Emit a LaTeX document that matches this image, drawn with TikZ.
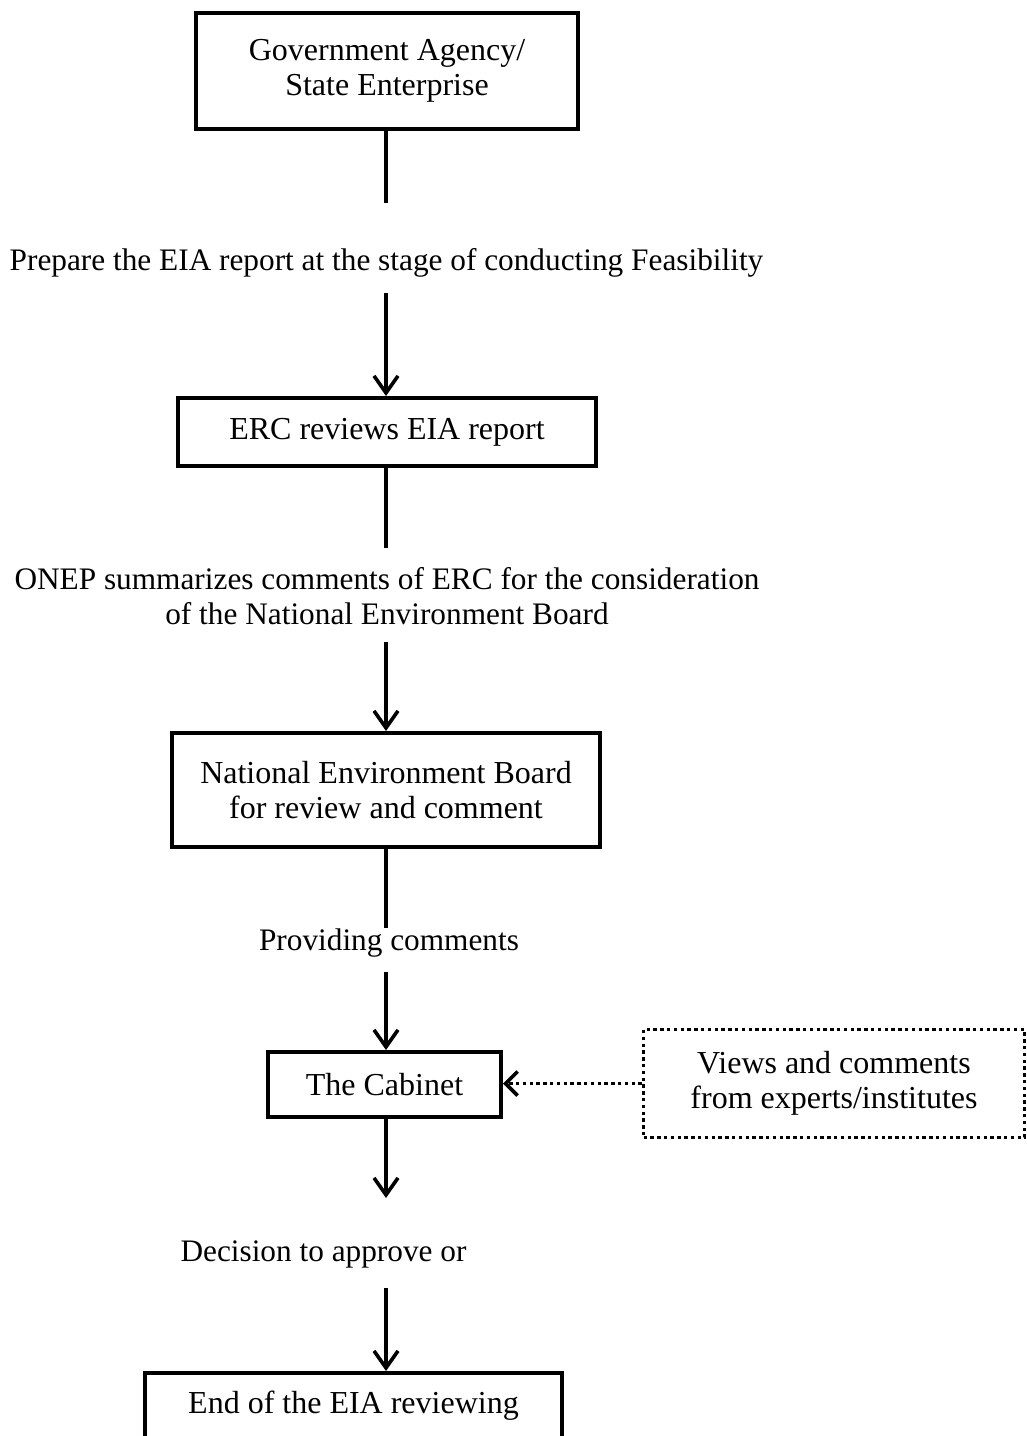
\documentclass[tikz,border=0pt]{standalone}
\usepackage{fontspec}
\setmainfont{Liberation Serif}
\usetikzlibrary{arrows.meta}
\newcommand\figfont{\fontsize{32}{35}\selectfont}
\newcommand\labfont{\fontsize{31.3}{34.5}\selectfont}
\begin{document}
\begin{tikzpicture}[x=1pt,y=-1pt,
  box/.style={draw,line width=4pt,inner sep=0pt,align=center,font=\figfont},
  lab/.style={inner sep=0pt,align=center,font=\labfont},
  conn/.style={line width=3.6pt},
  arr/.style={line width=3.6pt,-{Straight Barb[length=17pt,width=24pt]}},
  dotline/.style={line width=3.6pt,dash pattern=on 3.4pt off 3.4pt}]
\useasboundingbox (0,0) rectangle (1027,1436);
\clip (0,0) rectangle (1027,1436);

\node[box,minimum width=382pt,minimum height=116pt] (gov) at (387,71) {Government Agency/\\State Enterprise};
\node[lab] (l1) at (386.5,263) {Prepare the EIA report at the stage of conducting Feasibility};
\node[box,minimum width=418pt,minimum height=68pt] (erc) at (387,432) {ERC reviews EIA report};
\node[lab] (l2) at (387,596) {ONEP summarizes comments of ERC for the consideration\\of the National Environment Board};
\node[box,minimum width=428pt,minimum height=114pt] (neb) at (386,790) {National Environment Board\\for review and comment};
\node[lab] (l3) at (389,943) {Providing comments};
\node[box,minimum width=233pt,minimum height=65pt] (cab) at (384.5,1084.5) {The Cabinet};
\node[box,line width=3.6pt,dash pattern=on 3.4pt off 3.4pt,minimum width=381pt,minimum height=108pt] (ext) at (834,1083.5) {Views and comments\\from experts/institutes};
\node[lab] (l4) at (323.5,1254) {Decision to approve or};
\node[box,minimum width=417pt,minimum height=66pt] (end) at (353.5,1406) {End of the EIA reviewing};

\coordinate (a1) at (386,203);
\coordinate (b1) at (386,293);
\coordinate (a2) at (386,548);
\coordinate (b2) at (386,642);
\coordinate (a3) at (386,928);
\coordinate (b3) at (386,972);
\coordinate (a4) at (386,1198);
\coordinate (b4) at (386,1288);

\draw[conn] (gov.south -| a1) -- (a1);
\draw[arr] (b1) -- (b1 |- erc.north);
\draw[conn] (erc.south -| a2) -- (a2);
\draw[arr] (b2) -- (b2 |- neb.north);
\draw[conn] (neb.south -| a3) -- (a3);
\draw[arr] (b3) -- (b3 |- cab.north);
\draw[arr] (cab.south -| a4) -- (a4);
\draw[arr] (b4) -- (b4 |- end.north);
\draw[dotline,-{Straight Barb[length=12pt,width=24pt]}] (ext.west) -- (ext.west -| cab.east);
\end{tikzpicture}
\end{document}
